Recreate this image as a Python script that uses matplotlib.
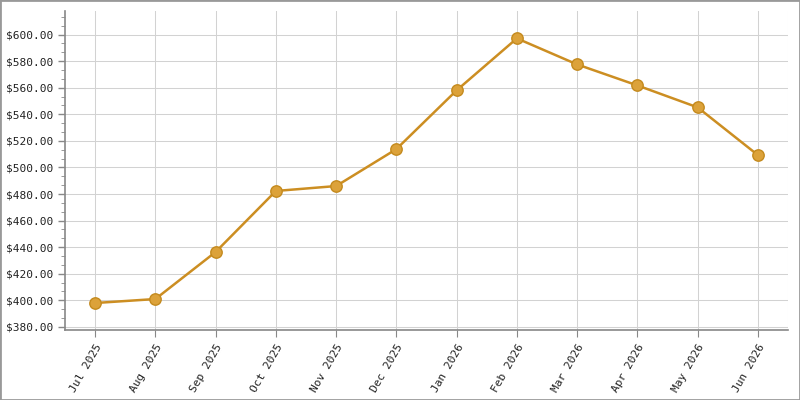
import matplotlib
matplotlib.use("Agg")
import matplotlib.pyplot as plt
from matplotlib.ticker import MultipleLocator, FuncFormatter
from matplotlib.patches import Rectangle

months = ["Jul 2025", "Aug 2025", "Sep 2025", "Oct 2025", "Nov 2025", "Dec 2025",
          "Jan 2026", "Feb 2026", "Mar 2026", "Apr 2026", "May 2026", "Jun 2026"]
prices = [398.0, 401.0, 436.4, 482.3, 486.0, 513.8,
          558.0, 597.1, 577.5, 561.7, 545.2, 509.3]

plt.rcParams["font.family"] = ["DejaVu Sans Mono"]

fig = plt.figure(figsize=(8, 4), dpi=100)
ax = fig.add_axes([0.08125, 0.175, 0.90375, 0.7975])

x = range(len(months))
ax.plot(x, prices, color="#cc8e22", linewidth=1.8, zorder=3)
ax.plot(x, prices, linestyle="none", marker="o", markersize=8.2,
        markerfacecolor="#dca23a", markeredgecolor="#c48a1e",
        markeredgewidth=1, zorder=4)

ax.set_xlim(-0.5, len(months) - 0.5)
ax.set_ylim(377.7, 617.7)
ax.set_xticks(list(x))
ax.set_xticklabels(months, rotation=60, ha="right", rotation_mode="anchor",
                   fontsize=8, color="#222")
ax.yaxis.set_major_locator(MultipleLocator(20))
ax.yaxis.set_minor_locator(MultipleLocator(20 / 3))
ax.yaxis.set_major_formatter(FuncFormatter(lambda v, p: f"${v:.2f}"))
ax.tick_params(axis="y", labelsize=8, colors="#888", labelcolor="#222",
               length=5, width=1)
ax.tick_params(axis="y", which="minor", length=3, colors="#888")
ax.tick_params(axis="x", length=5, colors="#888", labelcolor="#222")

ax.grid(True, color="#d2d2d2", linewidth=0.75, zorder=0)
ax.axvline(len(months) - 0.5, color="#d2d2d2", linewidth=0.75, zorder=0)
for s in ["top", "right"]:
    ax.spines[s].set_visible(False)
for s in ["left", "bottom"]:
    ax.spines[s].set_color("#888")
    ax.spines[s].set_linewidth(1.2)

fig.patches.append(Rectangle((0, 0), 1, 1, transform=fig.transFigure,
                             fill=False, edgecolor="#999", linewidth=2))

fig.savefig("out.png", dpi=100)
